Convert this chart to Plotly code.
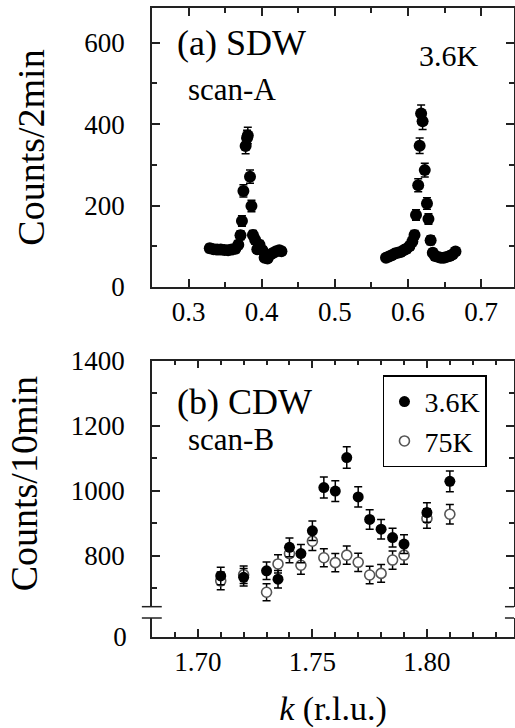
import plotly.graph_objects as go

# ---------------- data ----------------
# (a) SDW, scan-A, 3.6K  (Counts/2min)
k_a = [0.329, 0.334, 0.339, 0.344, 0.349, 0.354, 0.359, 0.364, 0.368, 0.371,
       0.373, 0.375, 0.378, 0.380, 0.381, 0.384, 0.386, 0.388, 0.391, 0.394,
       0.397, 0.401, 0.404, 0.408, 0.412, 0.416, 0.420, 0.424, 0.427,
       0.570, 0.574, 0.578, 0.582, 0.586, 0.590, 0.594, 0.598, 0.602, 0.606,
       0.609, 0.611, 0.614, 0.616, 0.618, 0.620, 0.623, 0.626, 0.628, 0.631,
       0.634, 0.637, 0.641, 0.645, 0.649, 0.653, 0.657, 0.661, 0.665]
cnt_a = [95, 93, 92, 92, 91, 90, 92, 94, 104, 127,
         162, 236, 346, 366, 372, 271, 199, 128, 116, 93,
         104, 90, 72, 70, 80, 84, 88, 90, 88,
         72, 75, 78, 82, 84, 86, 90, 94, 100, 112,
         128, 177, 250, 347, 426, 407, 287, 205, 167, 115,
         84, 76, 74, 72, 72, 74, 76, 80, 87]
err_a = [10, 10, 10, 10, 10, 9, 10, 10, 10, 11,
         13, 15, 19, 19, 20, 16, 14, 11, 11, 10,
         10, 9, 8, 8, 9, 9, 9, 9, 9,
         8, 9, 9, 9, 9, 9, 9, 10, 10, 11,
         11, 13, 16, 19, 21, 20, 17, 14, 13, 11,
         9, 9, 9, 8, 8, 9, 9, 9, 9]

# (b) CDW, scan-B  (Counts/10min)
k_b = [1.710, 1.720, 1.730, 1.735, 1.740, 1.745, 1.750, 1.755, 1.760,
       1.765, 1.770, 1.775, 1.780, 1.785, 1.790, 1.800, 1.810]
cnt_36K = [738, 734, 754, 728, 826, 807, 877, 1010, 999,
           1102, 981, 912, 882, 856, 836, 933, 1029]
err_36K = [27, 27, 27, 27, 29, 28, 30, 32, 32,
           33, 31, 30, 30, 29, 29, 30, 32]
cnt_75K = [723, 742, 688, 775, 807, 771, 845, 794, 779,
           802, 780, 741, 746, 787, 802, 915, 928]
err_75K = [27, 27, 26, 28, 28, 28, 29, 28, 28,
           28, 28, 27, 27, 28, 28, 30, 30]

xticks_a = [0.3, 0.4, 0.5, 0.6, 0.7]
xtext_a = ["0.3", "0.4", "0.5", "0.6", "0.7"]
xticks_b = [1.70, 1.75, 1.80]
xtext_b = ["1.70", "1.75", "1.80"]
yticks_a = [0, 200, 400, 600]
yticks_b = [800, 1000, 1200, 1400]

# ---------------- figure ----------------
FONT = "'Liberation Serif', 'Times New Roman', Times, serif"
LINE = "#222222"
fig = go.Figure()

fig.add_trace(go.Scatter(
    x=k_a, y=cnt_a, mode="markers", xaxis="x", yaxis="y", showlegend=False,
    marker=dict(color="black", size=12),
    error_y=dict(type="data", array=err_a, color="black", thickness=1.5, width=4),
))
# broken-axis panel: each series is plotted in the upper and lower y segments
for yax in ("y2", "y3"):
    fig.add_trace(go.Scatter(
        x=k_b, y=cnt_75K, mode="markers", xaxis="x2", yaxis=yax, name="75K",
        legendrank=2, showlegend=(yax == "y2"),
        marker=dict(color="white", size=10, line=dict(color="#555555", width=1.6)),
        error_y=dict(type="data", array=err_75K, color="black", thickness=1.5, width=4),
    ))
    fig.add_trace(go.Scatter(
        x=k_b, y=cnt_36K, mode="markers", xaxis="x2", yaxis=yax, name="3.6K",
        legendrank=1, showlegend=(yax == "y2"),
        marker=dict(color="black", size=11),
        error_y=dict(type="data", array=err_36K, color="black", thickness=1.5, width=4),
    ))
# empty trace so the top frame axis of panel (b) exists
fig.add_trace(go.Scatter(x=[], y=[], xaxis="x3", yaxis="y2", showlegend=False,
                         hoverinfo="skip"))

tickfont = dict(family=FONT, size=27, color="black")
common = dict(showline=True, linecolor=LINE, linewidth=1.5, ticks="inside",
              tickcolor=LINE, tickwidth=1.5, ticklen=8, showgrid=False,
              zeroline=False, tickfont=tickfont, automargin=False)
minor_kw = dict(ticks="inside", ticklen=5, tickcolor=LINE, tickwidth=1.5)

fig.update_layout(
    width=515, height=728,
    margin=dict(l=152, r=1, t=8, b=91),
    paper_bgcolor="white", plot_bgcolor="white",
    font=dict(family=FONT, color="black"),
    xaxis=dict(domain=[0, 1], anchor="y", range=[0.25, 0.745],
               tickvals=xticks_a, ticktext=xtext_a,
               mirror="ticks", ticklabelstandoff=0,
               minor=dict(dtick=0.05, **minor_kw), **common),
    yaxis=dict(domain=[0.5564, 1], anchor="x", range=[0, 685],
               tickvals=yticks_a, mirror="ticks", ticklabelstandoff=20,
               minor=dict(dtick=100, **minor_kw),
               title=dict(text="Counts/2min", font=dict(family=FONT, size=38), standoff=28),
               **common),
    xaxis2=dict(domain=[0, 1], anchor="y3", range=[1.68, 1.838],
                tickvals=xticks_b, ticktext=xtext_b, ticklabelstandoff=0,
                minor=dict(dtick=0.01, **minor_kw),
                title=dict(text="<i>k</i> (r.l.u.)", font=dict(family=FONT, size=34), standoff=22),
                **common),
    xaxis3=dict(domain=[0, 1], anchor="y2", overlaying="x2", side="top",
                range=[1.68, 1.838], tickvals=xticks_b, showticklabels=False,
                minor=dict(dtick=0.01, **minor_kw), **common),
    yaxis2=dict(domain=[0.0482, 0.4393], anchor="x2", range=[643.6, 1400],
                tickvals=yticks_b, mirror="ticks", ticklabelstandoff=20,
                minor=dict(dtick=100, **minor_kw),
                title=dict(text="Counts/10min", font=dict(family=FONT, size=38), standoff=22),
                **common),
    yaxis3=dict(domain=[0, 0.0302], anchor="x2", range=[0, 60],
                tickvals=[0], mirror=True, ticklabelstandoff=18, **common),
    legend=dict(x=0.638, y=0.416, xanchor="left", yanchor="top",
                bgcolor="white", bordercolor="black", borderwidth=1.5,
                font=dict(family=FONT, size=28, color="black"),
                itemwidth=30, tracegroupgap=0),
    showlegend=True,
)

# axis-break marks on the bottom panel's y axis
for yd in (0.0482, 0.0302):
    fig.add_shape(type="line", xref="paper", yref="paper",
                  x0=-0.028, x1=0.027, y0=yd, y1=yd,
                  line=dict(color=LINE, width=1.5))
    fig.add_shape(type="line", xref="paper", yref="paper",
                  x0=0.975, x1=1.0, y0=yd, y1=yd,
                  line=dict(color=LINE, width=1.5))

ann = [
    ("(a) SDW", 0.0635, 0.9444, 36),
    ("scan-A", 0.0939, 0.8712, 31),
    ("3.6K", 0.732, 0.9237, 30),
    ("(b) CDW", 0.0635, 0.3741, 36),
    ("scan-B", 0.0939, 0.3132, 31),
]
for txt, x, y, s in ann:
    fig.add_annotation(text=txt, xref="paper", yref="paper", x=x, y=y,
                       xanchor="left", yanchor="middle", showarrow=False,
                       font=dict(family=FONT, size=s, color="black"))

fig.write_html("out.html")
